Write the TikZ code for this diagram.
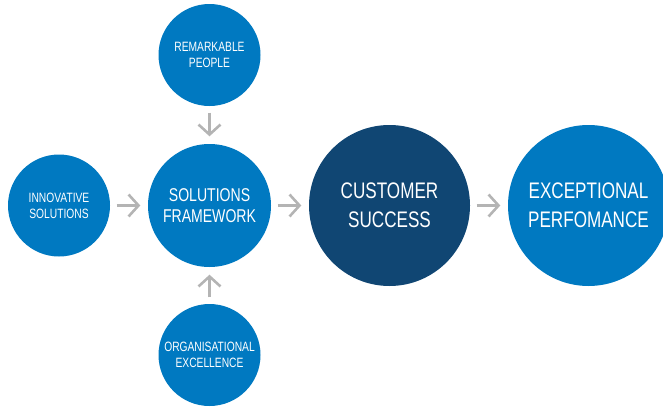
\documentclass[tikz,border=0pt]{standalone}
\usepackage{fontspec}
\setmainfont{Liberation Sans}[FakeStretch=0.76]
\usetikzlibrary{arrows.meta}
\definecolor{bluefill}{RGB}{0,121,193}
\definecolor{navyfill}{RGB}{16,70,115}
\definecolor{arrowgrey}{RGB}{180,180,180}
\tikzset{
  bubble/.style={circle, fill=bluefill, inner sep=0pt, text=white, align=center},
  smallbubble/.style={bubble, minimum size=102pt, font=\fontsize{13.5}{16}\selectfont},
  midbubble/.style={bubble, minimum size=123pt, font=\fontsize{18.5}{21.5}\selectfont},
  bigbubble/.style={bubble, minimum size=161pt, font=\fontsize{22.5}{28.5}\selectfont},
  flow/.style={draw=arrowgrey, line width=2.6pt,
    -{Straight Barb[length=10pt, width=22pt, line width=2.6pt]},
    shorten <=6.5pt, shorten >=7.5pt}
}
\begin{document}
\begin{tikzpicture}[x=1pt, y=-1pt]
  \useasboundingbox (0,0) rectangle (663,407);
  % outer bubbles feeding the framework
  \node[smallbubble] (rp) at (209.5,55) {REMARKABLE\\PEOPLE};
  \node[smallbubble] (is) at (59,205.5) {INNOVATIVE\\SOLUTIONS};
  \node[smallbubble] (oe) at (209.5,355) {ORGANISATIONAL\\EXCELLENCE};
  % the main chain
  \node[midbubble] (sf) at (209.5,205.5) {SOLUTIONS\\FRAMEWORK};
  \node[bigbubble, fill=navyfill] (cs) at (389.5,205.5) {CUSTOMER\\SUCCESS};
  \node[bigbubble] (ep) at (588.5,205.5) {EXCEPTIONAL\\PERFOMANCE};
  % connectors
  \draw[flow] (rp) -- (sf);
  \draw[flow] (is) -- (sf);
  \draw[flow] (oe) -- (sf);
  \draw[flow] (sf) -- (cs);
  \draw[flow] (cs) -- (ep);
\end{tikzpicture}
\end{document}
